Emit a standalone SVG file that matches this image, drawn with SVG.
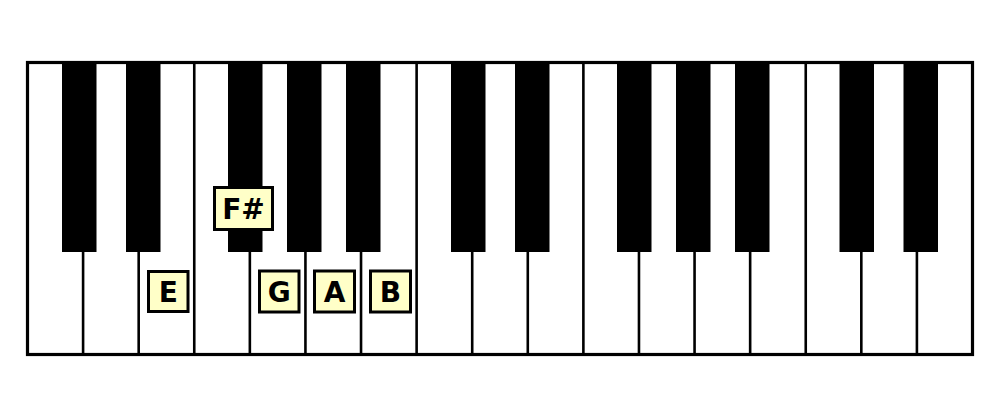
<svg xmlns="http://www.w3.org/2000/svg" width="1000" height="417" viewBox="0 0 1000 417">
  <defs>
    <style>
      .div { stroke: #000; stroke-width: 2.6; }
      .bk { fill: #000; }
      .lbl rect { fill: #FFFFC8; stroke: #000; stroke-width: 3; }
      .lbl text { font-family: "DejaVu Sans", "Liberation Sans", sans-serif; font-weight: bold; font-size: 28px; fill: #000; text-anchor: middle; }
    </style>
  </defs>
  <rect width="1000" height="417" fill="#fff"/>
  <g id="keyboard">
    <rect x="27.5" y="62.5" width="945" height="292" fill="#fff"/>
    <g id="white-dividers">
      <line class="div" x1="83.09" y1="62.5" x2="83.09" y2="354.5"/>
      <line class="div" x1="138.68" y1="62.5" x2="138.68" y2="354.5"/>
      <line class="div" x1="194.26" y1="62.5" x2="194.26" y2="354.5"/>
      <line class="div" x1="249.85" y1="62.5" x2="249.85" y2="354.5"/>
      <line class="div" x1="305.44" y1="62.5" x2="305.44" y2="354.5"/>
      <line class="div" x1="361.03" y1="62.5" x2="361.03" y2="354.5"/>
      <line class="div" x1="416.62" y1="62.5" x2="416.62" y2="354.5"/>
      <line class="div" x1="472.21" y1="62.5" x2="472.21" y2="354.5"/>
      <line class="div" x1="527.79" y1="62.5" x2="527.79" y2="354.5"/>
      <line class="div" x1="583.38" y1="62.5" x2="583.38" y2="354.5"/>
      <line class="div" x1="638.97" y1="62.5" x2="638.97" y2="354.5"/>
      <line class="div" x1="694.56" y1="62.5" x2="694.56" y2="354.5"/>
      <line class="div" x1="750.15" y1="62.5" x2="750.15" y2="354.5"/>
      <line class="div" x1="805.74" y1="62.5" x2="805.74" y2="354.5"/>
      <line class="div" x1="861.32" y1="62.5" x2="861.32" y2="354.5"/>
      <line class="div" x1="916.91" y1="62.5" x2="916.91" y2="354.5"/>
    </g>
    <g id="black-keys">
      <rect class="bk" x="62" y="62.5" width="34.5" height="189.5"/>
      <rect class="bk" x="126" y="62.5" width="34.5" height="189.5"/>
      <rect class="bk" x="228" y="62.5" width="34.5" height="189.5"/>
      <rect class="bk" x="287" y="62.5" width="34.5" height="189.5"/>
      <rect class="bk" x="346" y="62.5" width="34.5" height="189.5"/>
      <rect class="bk" x="451" y="62.5" width="34.5" height="189.5"/>
      <rect class="bk" x="515" y="62.5" width="34.5" height="189.5"/>
      <rect class="bk" x="617" y="62.5" width="34.5" height="189.5"/>
      <rect class="bk" x="676" y="62.5" width="34.5" height="189.5"/>
      <rect class="bk" x="735" y="62.5" width="34.5" height="189.5"/>
      <rect class="bk" x="839.5" y="62.5" width="34.5" height="189.5"/>
      <rect class="bk" x="903.5" y="62.5" width="34.5" height="189.5"/>
    </g>
    <rect x="27.5" y="62.5" width="945" height="292" fill="none" stroke="#000" stroke-width="3.2"/>
  </g>
  <g id="label-E" class="lbl">
    <rect x="148.5" y="271.5" width="39.5" height="40"/>
    <text x="168.2" y="302">E</text>
  </g>
  <g id="label-Fsharp" class="lbl">
    <rect x="214.5" y="187.5" width="58" height="42"/>
    <text x="243.5" y="219">F#</text>
  </g>
  <g id="label-G" class="lbl">
    <rect x="259.5" y="271" width="39.5" height="41"/>
    <text x="279.2" y="302">G</text>
  </g>
  <g id="label-A" class="lbl">
    <rect x="314.5" y="271" width="40" height="41"/>
    <text x="334.5" y="302">A</text>
  </g>
  <g id="label-B" class="lbl">
    <rect x="370.5" y="271" width="40" height="41"/>
    <text x="390.5" y="302">B</text>
  </g>
</svg>
